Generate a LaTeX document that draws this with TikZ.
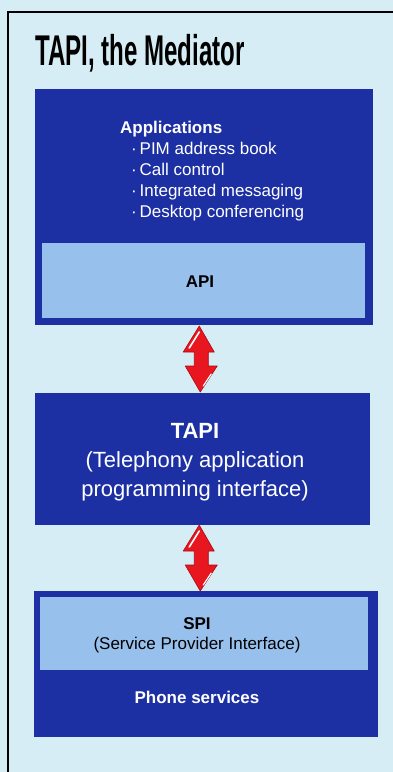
\documentclass[tikz,border=0pt]{standalone}
\usepackage{fontspec}
\setmainfont{Liberation Sans}
\usetikzlibrary{positioning, calc}
\definecolor{paper}{RGB}{214,237,245}
\definecolor{tapiblue}{RGB}{28,48,164}
\definecolor{bandblue}{RGB}{152,192,236}
\definecolor{arrowred}{RGB}{232,22,30}
\definecolor{arrowedge}{RGB}{170,10,20}
\tikzset{
    tapidiagram/.style={x=1pt, y=-1pt, font=\fontsize{17}{21}\selectfont},
    darkbox/.style={fill=tapiblue, inner sep=0pt},
    band/.style={fill=bandblue, inner sep=0pt},
    boxtext/.style={inner sep=0pt, align=center},
    % the fat red two-way arrow between two layers
    dblarrow/.pic={
        \fill[arrowred, draw=arrowedge, line width=0.6pt, line join=round]
            (0,-33) -- (15,-7) -- (9,-7) -- (9,7) -- (18,7) -- (1,33)
            -- (-14,7) -- (-5,7) -- (-5,-7) -- (-16,-7) -- cycle;
        \draw[white, line width=1.6pt, line cap=round] (-10,-11) -- (0,-27);
        \draw[white, line width=1.2pt, line cap=round] (4,27) -- (12,15);
    },
}

\begin{document}
\begin{tikzpicture}[tapidiagram]
    \fill[paper] (0,0) rectangle (393,772);
    \useasboundingbox (0,0) rectangle (393,772);
    \draw[black, line width=2pt] (8,772) -- (8,12) -- (393,12);

    \node[boxtext, anchor=base west] (title) at (35,65)
        {\fontsize{43}{43}\selectfont\bfseries\scalebox{0.56}[1]{TAPI, the Mediator}};

    \node[darkbox, minimum width=338pt, minimum height=236pt] (apps)   at (204,207) {};
    \node[band,    minimum width=323pt, minimum height=75pt]  (api)    at (203.5,280.5) {};
    \node[darkbox, minimum width=335pt, minimum height=132pt] (tapi)   at (202.5,459) {};
    \node[darkbox, minimum width=344pt, minimum height=146pt] (spibox) at (206,664) {};
    \node[band,    minimum width=328pt, minimum height=73pt]  (spi)    at (204,633.5) {};

    \node[boxtext, align=left, anchor=north west, text=white] (applist) at (120,121)
        {\textbf{Applications}\\
         \hspace*{11pt}·\,PIM address book\\
         \hspace*{11pt}·\,Call control\\
         \hspace*{11pt}·\,Integrated messaging\\
         \hspace*{11pt}·\,Desktop conferencing};
    \node[boxtext, font=\fontsize{17}{21}\selectfont\bfseries] (apilabel) at (200,282) {API};

    \node[boxtext, text=white, font=\fontsize{22}{29}\selectfont] (tapitext) at (195,462)
        {\textbf{TAPI}\\(Telephony application\\programming interface)};

    \node[boxtext, font=\fontsize{17}{20}\selectfont] (spitext) at (197,635)
        {\textbf{SPI}\\(Service Provider Interface)};
    \node[boxtext, text=white, font=\fontsize{17}{21}\selectfont\bfseries] (phone) at (197,697)
        {Phone services};

    \pic at ($($(apps.south)!0.5!(tapi.north)$)+(-4,0)$) {dblarrow};
    \pic at ($($(tapi.south)!0.5!(spibox.north)$)+(-5,0)$) {dblarrow};
\end{tikzpicture}
\end{document}
